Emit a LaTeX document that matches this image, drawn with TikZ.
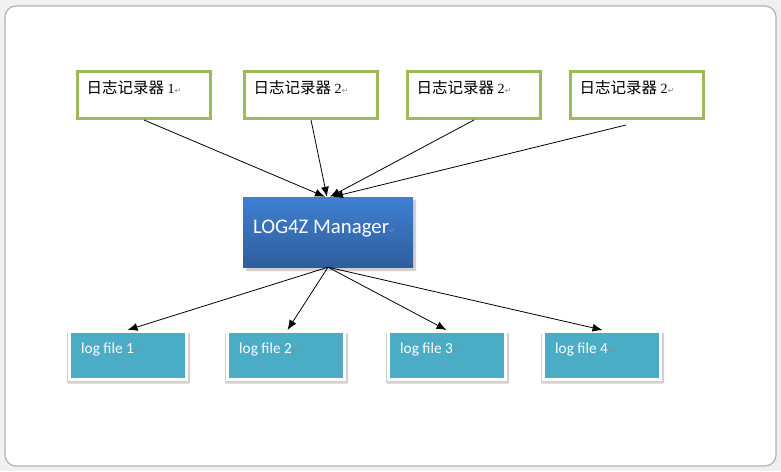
\documentclass[tikz,border=0pt]{standalone}
\usepackage{fontspec}
\setmainfont{Carlito}
\newfontfamily\cjk{Noto Sans CJK SC}
\newfontfamily\symf{DejaVu Sans}
\newfontfamily\digf{Liberation Serif}
\usetikzlibrary{arrows.meta}
\definecolor{tgreen}{HTML}{9BBB59}
\definecolor{tteal}{HTML}{4BACC6}
\definecolor{mtop}{HTML}{3F7FD2}
\definecolor{mbot}{HTML}{2E5E9E}
\definecolor{pmark}{HTML}{8C8C8C}
\newcommand{\parmark}{{\symf\fontsize{8}{8}\selectfont\color{pmark}↵}}
\tikzset{
  topbox/.style={draw=tgreen, line width=3pt, fill=white, minimum width=133pt, minimum height=47pt, inner sep=0pt},
  toptext/.style={anchor=west, inner sep=0pt, font=\cjk\fontsize{15.5}{18}\selectfont},
  mgrbox/.style={top color=mtop, bottom color=mbot, draw=none, minimum width=170pt, minimum height=70pt, inner sep=0pt},
  mgrtext/.style={anchor=west, inner sep=0pt, text=white, font=\fontsize{20.8}{24}\selectfont},
  filebox/.style={fill=tteal, draw=white, line width=3pt, minimum width=117pt, minimum height=48pt, inner sep=0pt},
  filetext/.style={anchor=west, inner sep=0pt, text=white, font=\fontsize{15.3}{17}\selectfont},
  arr/.style={-{Latex[length=10pt,width=8pt]}, line width=0.8pt, black},
  shad/.style={fill=black, opacity=0.18, draw=none, rounded corners=1pt},
}
\begin{document}
\begin{tikzpicture}[x=1pt,y=-1pt]
\fill[black!6] (0,0) rectangle (781,471);
\draw[black!30, fill=white, rounded corners=11pt, line width=1.2pt] (5,6) rectangle (776,466);
\useasboundingbox (0,0) rectangle (781,471);

% top logger boxes
\node[topbox] (t1) at (144,95) {};
\node[topbox] (t2) at (311,95) {};
\node[topbox] (t3) at (474,95) {};
\node[topbox] (t4) at (637,95) {};
\foreach \n/\d in {t1/1,t2/2,t3/2,t4/2}{
  \node[toptext] (\n l) at ([xshift=10.5pt,yshift=-18pt]\n.north west) {日志记录器 {\digf\fontsize{14}{15}\selectfont\d}\parmark};
}

% manager
\fill[shad] (246,200) rectangle (416,271);
\node[mgrbox] (m) at (328,232) {};
\node[mgrtext] (ml) at ([xshift=10pt,yshift=3pt]m.west) {LOG4Z Manager\parmark};

% file boxes
\foreach \n/\x in {b1/127.5,b2/285.5,b3/446.5,b4/601.5}{
  \fill[shad] (\x-60.5,333) rectangle (\x+62.5,383.5);
}
\node[filebox] (b1) at (127.5,355.5) {};
\node[filebox] (b2) at (285.5,355.5) {};
\node[filebox] (b3) at (446.5,355.5) {};
\node[filebox] (b4) at (601.5,355.5) {};
\foreach \n/\k in {b1/1,b2/2,b3/3,b4/4}{
  \node[filetext] (\n l) at ([xshift=13.5pt,yshift=-19pt]\n.north west) {log file \k\parmark};
}

% connectors
\draw[arr] (t1.south) -- ([xshift=-3pt]m.north);
\draw[arr] (t2.south) -- ([xshift=-1pt]m.north);
\draw[arr] (t3.south) -- ([xshift=2pt]m.north);
\draw[arr] ([xshift=-11pt,yshift=-5pt]t4.south) -- ([xshift=5pt]m.north);
\draw[arr] (m.south) -- (b1.north);
\draw[arr] (m.south) -- ([xshift=2pt]b2.north);
\draw[arr] (m.south) -- (b3.north);
\draw[arr] (m.south) -- ([xshift=1pt]b4.north);
\end{tikzpicture}
\end{document}
